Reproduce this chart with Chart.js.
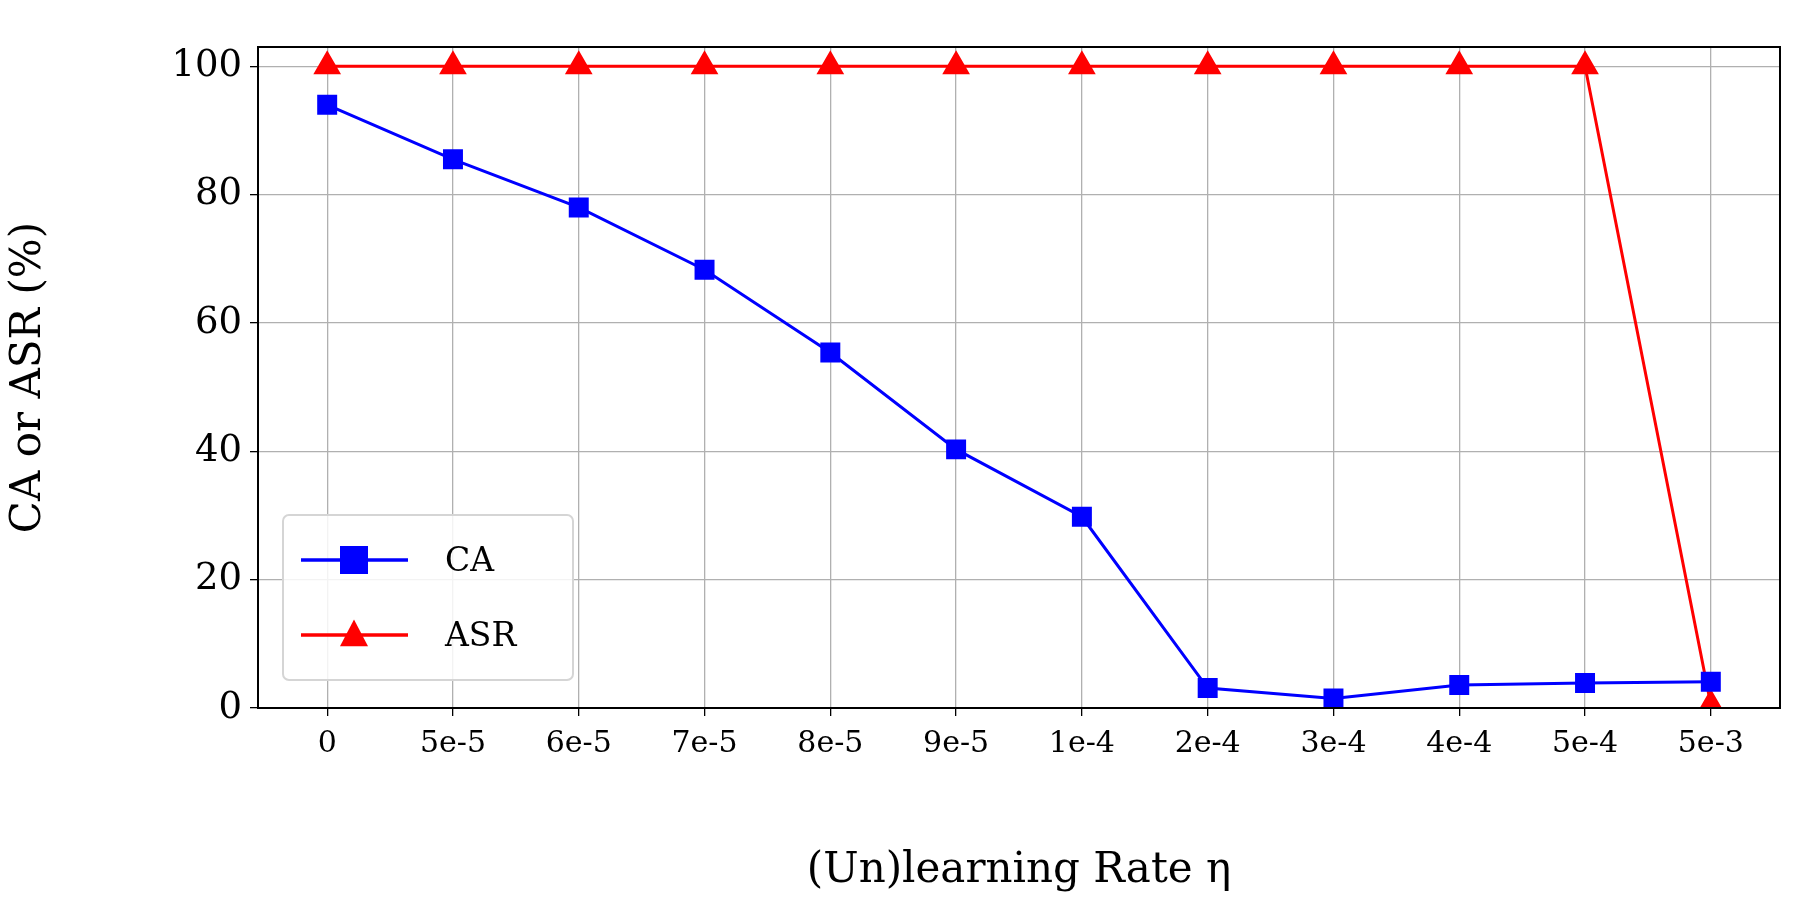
<!DOCTYPE html>
<html><head><meta charset="utf-8">
<script src="https://cdn.jsdelivr.net/npm/chart.js@4/dist/chart.umd.min.js"></script>
<style>html,body{margin:0;padding:0;background:#fff}</style>
</head><body><canvas id="c" width="1800" height="900" style="width:1800px;height:900px;display:block"></canvas>
<script>
const categories = ["0","5e-5","6e-5","7e-5","8e-5","9e-5","1e-4","2e-4","3e-4","4e-4","5e-4","5e-3"];
const caValues = [94.0,85.5,78.0,68.3,55.4,40.3,29.8,3.1,1.5,3.6,3.9,4.1];
const asrValues = [100,100,100,100,100,100,100,100,100,100,100,0.5];
const yTicks = [0,20,40,60,80,100];

const FONT = "'DejaVu Serif'";
const toPts = a => a.map((v,i)=>({x:i,y:v}));

const legendPlugin = {
  id:'lg',
  afterDraw(chart){
    const ctx=chart.ctx, a=chart.chartArea;
    const x0=a.left+25, y0=a.bottom-193, w=290, h=165;
    ctx.save();
    ctx.fillStyle='rgba(255,255,255,0.85)';
    ctx.strokeStyle='#d5d5d5'; ctx.lineWidth=2;
    ctx.beginPath(); ctx.roundRect(x0,y0,w,h,6); ctx.fill(); ctx.stroke();
    chart.data.datasets.forEach((ds,i)=>{
      const cy=y0+45+i*75;
      ctx.strokeStyle=ds.borderColor; ctx.lineWidth=3.5;
      ctx.beginPath(); ctx.moveTo(x0+18,cy); ctx.lineTo(x0+125,cy); ctx.stroke();
      ctx.fillStyle=ds.borderColor;
      const cx=x0+71, r=14;
      ctx.beginPath();
      if(ds.pointStyle==='rect'){ ctx.rect(cx-r,cy-r,2*r,2*r); }
      else { ctx.moveTo(cx,cy-r*1.1); ctx.lineTo(cx+r,cy+r*0.8); ctx.lineTo(cx-r,cy+r*0.8); ctx.closePath(); }
      ctx.fill();
      ctx.fillStyle='#000'; ctx.font='33px '+FONT; ctx.textBaseline='middle';
      ctx.fillText(ds.label,x0+162,cy+2);
    });
    ctx.restore();
  }
};

new Chart(document.getElementById('c'),{
  type:'line',
  data:{datasets:[
    {label:'CA',data:toPts(caValues),borderColor:'#0000ff',backgroundColor:'#0000ff',borderWidth:3,pointStyle:'rect',pointRadius:12,pointHoverRadius:12},
    {label:'ASR',data:toPts(asrValues),borderColor:'#ff0000',backgroundColor:'#ff0000',borderWidth:3,pointStyle:'triangle',pointRadius:13,pointHoverRadius:13}
  ]},
  options:{
    responsive:false,maintainAspectRatio:false,animation:false,devicePixelRatio:1,
    layout:{padding:{top:47,right:20,left:0,bottom:0}},
    plugins:{legend:{display:false},tooltip:{enabled:false}},
    scales:{
      x:{type:'linear',min:-0.55,max:11.55,
        afterBuildTicks(ax){ax.ticks=categories.map((c,i)=>({value:i}));},
        afterFit(ax){ax.height=192;},
        ticks:{callback:(v)=>categories[v],font:{family:FONT,size:30},color:'#000',padding:10,maxRotation:0,autoSkip:false},
        grid:{color:'#b0b0b0',lineWidth:1.3,tickColor:'#000',tickLength:8},
        border:{color:'#000',width:2},
        title:{display:true,text:'(Un)learning Rate η',font:{family:FONT,size:42},color:'#000',padding:{top:14}}
      },
      y:{min:0,max:103,
        afterBuildTicks(ax){ax.ticks=yTicks.map(v=>({value:v}));},
        afterFit(ax){ax.width=258;},
        ticks:{font:{family:FONT,size:37},color:'#000',padding:8},
        grid:{color:'#b0b0b0',lineWidth:1.3,tickColor:'#000',tickLength:8},
        border:{color:'#000',width:2},
        title:{display:true,text:'CA or ASR (%)',font:{family:FONT,size:42},color:'#000',padding:{bottom:14}}
      }
    }
  },
  plugins:[legendPlugin,{id:'frame',afterDraw(ch){const a=ch.chartArea,c=ch.ctx;c.save();c.strokeStyle='#000';c.lineWidth=2;c.strokeRect(a.left,a.top,a.right-a.left,a.bottom-a.top);c.restore();}}]
});
</script>
</body></html>
